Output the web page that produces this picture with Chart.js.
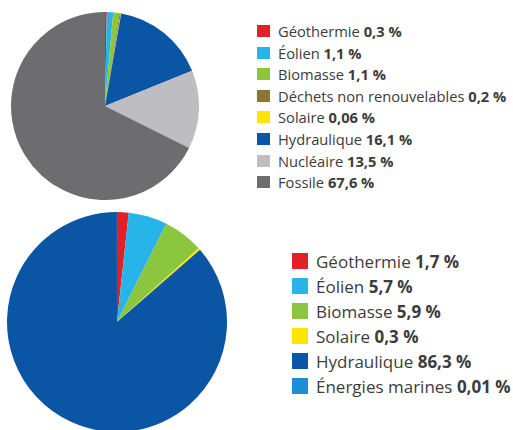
<!DOCTYPE html>
<html><head><meta charset="utf-8">
<script src="https://cdn.jsdelivr.net/npm/chart.js@4/dist/chart.umd.min.js"></script>
<style>
html,body{margin:0;padding:0;background:#fff;width:513px;height:430px;overflow:hidden;position:relative;font-family:"Open Sans","Lato",sans-serif;}
canvas{position:absolute;}
.legend{position:absolute;color:#3c3c3c;}
.legend .row{position:absolute;left:0;white-space:nowrap;display:flex;align-items:center;}
.legend .sw{display:inline-block;}
.legend b{font-weight:700;}
</style></head><body>
<canvas id="c1" width="188" height="188" style="left:11px;top:12px"></canvas>
<canvas id="c2" width="220" height="220" style="left:7px;top:212px"></canvas>
<div id="l1" class="legend" style="left:257px;top:0;font-size:14.7px;"></div>
<div id="l2" class="legend" style="left:292px;top:0;font-size:17px;"></div>
<script>
const labels1 = ["Géothermie","Éolien","Biomasse","Déchets non renouvelables","Solaire","Hydraulique","Nucléaire","Fossile"];
const values1 = [0.3, 1.1, 1.1, 0.2, 0.06, 16.1, 13.5, 67.6];
const valueText1 = ["0,3 %","1,1 %","1,1 %","0,2 %","0,06 %","16,1 %","13,5 %","67,6 %"];
const colors1 = ["#e3202a","#27b5e9","#8cc63f","#8b7436","#ffe600","#0b56a4","#bdbdc2","#6d6d70"];

const labels2 = ["Géothermie","Éolien","Biomasse","Solaire","Hydraulique","Énergies marines"];
const values2 = [1.7, 5.7, 5.9, 0.3, 86.3, 0.01];
const valueText2 = ["1,7 %","5,7 %","5,9 %","0,3 %","86,3 %","0,01 %"];
const colors2 = ["#e3202a","#27b5e9","#8cc63f","#ffe600","#0b56a4","#1b8fd6"];

function pie(id, labels, values, colors){
  return new Chart(document.getElementById(id), {
    type: 'pie',
    data: { labels: labels, datasets: [{ data: values, backgroundColor: colors, borderWidth: 0 }] },
    options: {
      responsive: false, animation: false,
      layout: { padding: 0 },
      plugins: { legend: { display: false }, tooltip: { enabled: false } }
    }
  });
}
pie('c1', labels1, values1, colors1);
pie('c2', labels2, values2, colors2);

function legend(id, labels, vals, colors, top0, step, sw, sh, gap){
  const el = document.getElementById(id);
  labels.forEach((l, i) => {
    const r = document.createElement('div');
    r.className = 'row';
    r.style.top = (top0 + i*step - 10) + 'px';
    r.style.height = '20px';
    const s = document.createElement('span');
    s.className = 'sw';
    s.style.width = sw + 'px'; s.style.height = sh + 'px';
    s.style.background = colors[i];
    s.style.marginRight = gap + 'px';
    r.appendChild(s);
    const t = document.createElement('span');
    t.innerHTML = l + ' <b>' + vals[i] + '</b>';
    r.appendChild(t);
    el.appendChild(r);
  });
}
legend('l1', labels1, valueText1, colors1, 31, 21.6, 13, 12, 8);
legend('l2', labels2, valueText2, colors2, 261, 25, 16, 16, 8);
</script>
</body></html>
